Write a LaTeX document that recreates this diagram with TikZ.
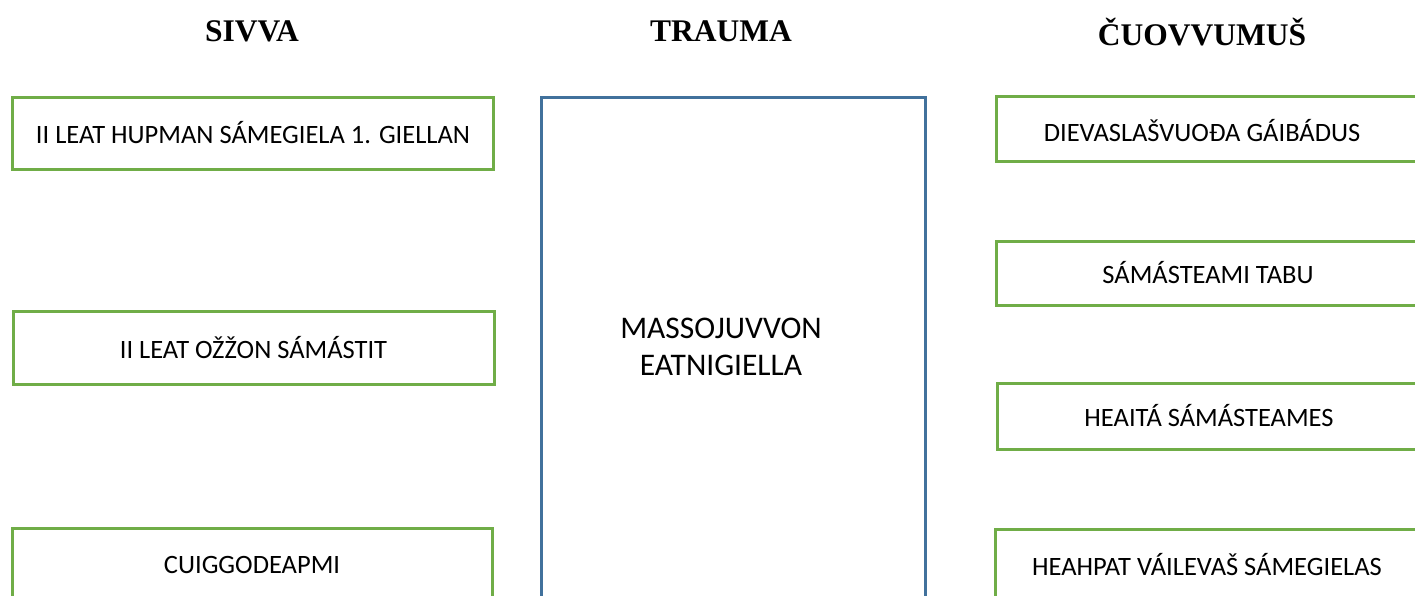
\documentclass[tikz,border=0pt]{standalone}
\usepackage{fontspec}
\setmainfont{Carlito}
\newfontfamily\headfont{Liberation Serif}
\definecolor{boxgreen}{HTML}{70AD47}
\definecolor{boxblue}{HTML}{41719C}
\begin{document}
\begin{tikzpicture}[x=1pt,y=-1pt,
  gbox/.style={draw=boxgreen, line width=3pt, rectangle, inner sep=0pt, outer sep=0pt,
    font=\fontsize{26.5}{32}\selectfont},
  bbox/.style={draw=boxblue, line width=3pt, rectangle, inner sep=0pt, outer sep=0pt},
  midtext/.style={align=center, inner sep=0pt, font=\fontsize{31.5}{37}\selectfont},
  head/.style={font=\headfont\bfseries\fontsize{31.5}{36}\selectfont, inner sep=0pt}]
\useasboundingbox (0,0) rectangle (1415,595);
\clip (0,0) rectangle (1415,595);
% headers
\node[head] (h1) at (252,31) {SIVVA};
\node[head] (h2) at (721,31) {TRAUMA};
\node[head] (h3) at (1202,32) {ČUOVVUMUŠ};
% left boxes
\node[gbox, minimum width=481pt, minimum height=72pt] (l1) at (253,133) {II LEAT HUPMAN SÁMEGIELA 1. GIELLAN};
\node[gbox, minimum width=481pt, minimum height=73pt] (l2) at (253.5,347.5) {II LEAT OŽŽON SÁMÁSTIT};
\node[gbox, minimum width=480pt, minimum height=73pt] (l3) at (252,564.5) {CUIGGODEAPMI};
% middle box
\node[bbox, minimum width=384pt, minimum height=505pt] (m) at (733,349.5) {};
\node[midtext] (mt) at (721,347) {MASSOJUVVON\\EATNIGIELLA};
% right boxes
\node[gbox, minimum width=424pt, minimum height=65pt] (r1) at (1208,128.5) {};
\node[font=\fontsize{26.5}{32}\selectfont, inner sep=0pt] (r1t) at (1202,131) {DIEVASLAŠVUOĐA GÁIBÁDUS};
\node[gbox, minimum width=424pt, minimum height=64pt] (r2) at (1208,273) {SÁMÁSTEAMI TABU};
\node[gbox, minimum width=424pt, minimum height=66pt] (r3) at (1209,416) {HEAITÁ SÁMÁSTEAMES};
\node[gbox, minimum width=424pt, minimum height=72pt] (r4) at (1207,565) {HEAHPAT VÁILEVAŠ SÁMEGIELAS};
\end{tikzpicture}
\end{document}
